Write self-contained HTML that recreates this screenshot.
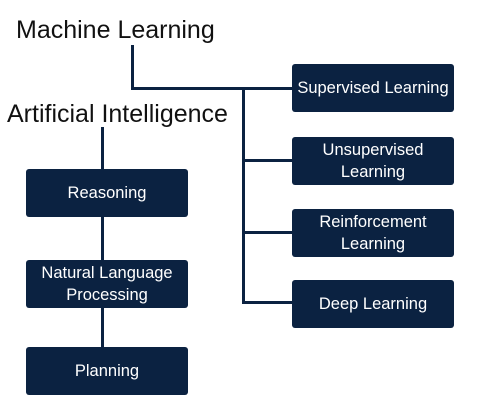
<!DOCTYPE html>
<html><head><style>
body{margin:0;width:500px;height:400px;background:#fff;position:relative;overflow:hidden;font-family:"Liberation Sans",sans-serif}
.t{position:absolute;color:#111;font-size:25px;white-space:nowrap}
.b{position:absolute;background:#0b2241;color:#fff;font-size:16.5px;border-radius:3px;display:flex;align-items:center;justify-content:center;text-align:center;line-height:22px}
.l{position:absolute;background:#0b2241}
</style></head><body>
<div class="t" style="left:16px;top:16px">Machine Learning</div>
<div class="t" style="left:7px;top:100px">Artificial Intelligence</div>
<div class="l" style="left:131px;top:45px;width:3px;height:45px"></div>
<div class="l" style="left:131px;top:87px;width:162px;height:3px"></div>
<div class="l" style="left:242px;top:87px;width:3px;height:217px"></div>
<div class="l" style="left:242px;top:159px;width:51px;height:3px"></div>
<div class="l" style="left:242px;top:231px;width:51px;height:3px"></div>
<div class="l" style="left:242px;top:301px;width:51px;height:3px"></div>
<div class="l" style="left:101px;top:127px;width:3px;height:250px"></div>
<div class="b" style="left:292px;top:64px;width:162px;height:48px">Supervised Learning</div>
<div class="b" style="left:292px;top:137px;width:162px;height:48px">Unsupervised<br>Learning</div>
<div class="b" style="left:292px;top:209px;width:162px;height:48px">Reinforcement<br>Learning</div>
<div class="b" style="left:292px;top:280px;width:162px;height:48px">Deep Learning</div>
<div class="b" style="left:26px;top:169px;width:162px;height:48px">Reasoning</div>
<div class="b" style="left:26px;top:260px;width:162px;height:48px">Natural Language<br>Processing</div>
<div class="b" style="left:26px;top:347px;width:162px;height:48px">Planning</div>
</body></html>
